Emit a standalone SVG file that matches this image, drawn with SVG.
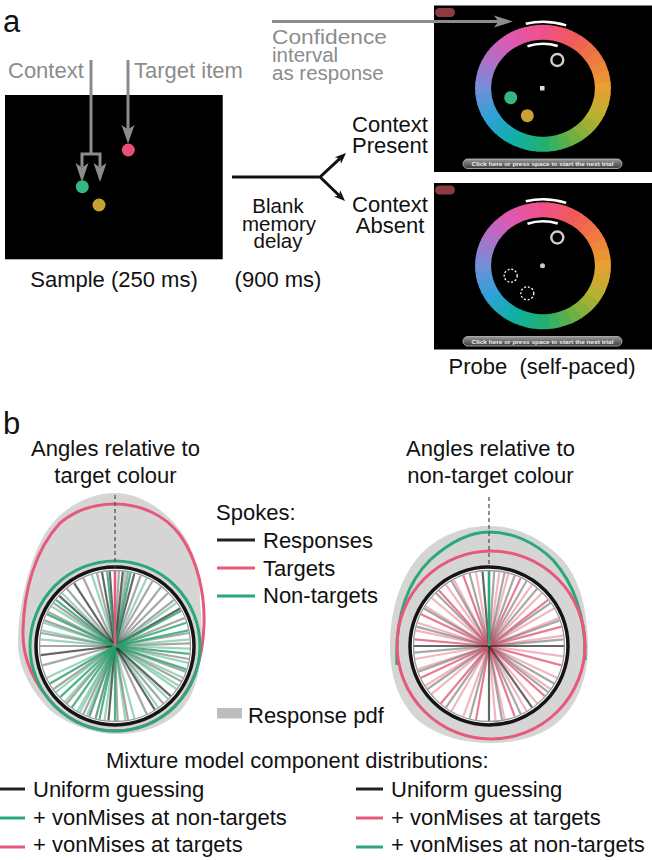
<svg xmlns="http://www.w3.org/2000/svg" width="652" height="860" viewBox="0 0 652 860">
<style>
text{font-family:"Liberation Sans",Arial,Helvetica,sans-serif;font-size:22px;fill:#111}
.gt{fill:#8c8c8c}
.lbl{font-size:31px}
.tight{font-size:20.5px}
.ga{stroke:#8c8c8c;stroke-width:3;fill:none}
.gh{fill:#8c8c8c}
.ka{stroke:#111;stroke-width:3;fill:none}
.kh{fill:#111}
.btn{font-size:6.2px;font-weight:bold;fill:#eeeeee}
.blob{fill:#d5d5d5}
.sp use{stroke-width:2.2}
.k1{stroke:#2b2b2b;stroke-opacity:.72}
.k2{stroke:#505050;stroke-opacity:.5}
.g1{stroke:#23a06a;stroke-opacity:.8}
.g2{stroke:#23a06a;stroke-opacity:.45}
.r1{stroke:#e0506e;stroke-opacity:.75}
.r2{stroke:#e0506e;stroke-opacity:.42}
.pk{stroke:#e6587c;stroke-width:3;fill:none}
.gn{stroke:#2aa876;stroke-width:3;fill:none}
.bk{stroke:#151515;stroke-width:3.5;fill:none}
.thin{stroke:#999;stroke-width:1.3;fill:none}
.dash{stroke:#555;stroke-width:1.3;stroke-dasharray:4 3}
.warc{stroke:#fff;stroke-width:2.5;fill:none}
</style>
<defs>
<linearGradient id="btng" x1="0" y1="0" x2="0" y2="1">
<stop offset="0" stop-color="#9a9a9a"/><stop offset="1" stop-color="#3c3c3c"/>
</linearGradient>
<path id="seg" d="M -5.47 -55.73 A 56 56 0 0 1 5.47 -55.73" fill="none" stroke-width="15"/>
<line id="spk" x1="0" y1="0" x2="0" y2="-75"/>
<g id="wheel">
<use href="#seg" stroke="#f0508a"/>
<use href="#seg" transform="rotate(10)" stroke="#f0537b"/>
<use href="#seg" transform="rotate(20)" stroke="#f0576a"/>
<use href="#seg" transform="rotate(30)" stroke="#f05a5a"/>
<use href="#seg" transform="rotate(40)" stroke="#f06551"/>
<use href="#seg" transform="rotate(50)" stroke="#f06f49"/>
<use href="#seg" transform="rotate(60)" stroke="#f07a40"/>
<use href="#seg" transform="rotate(70)" stroke="#ed873b"/>
<use href="#seg" transform="rotate(80)" stroke="#eb9335"/>
<use href="#seg" transform="rotate(90)" stroke="#e8a030"/>
<use href="#seg" transform="rotate(100)" stroke="#d8a530"/>
<use href="#seg" transform="rotate(110)" stroke="#c8ab30"/>
<use href="#seg" transform="rotate(120)" stroke="#b8b030"/>
<use href="#seg" transform="rotate(130)" stroke="#a0b035"/>
<use href="#seg" transform="rotate(140)" stroke="#88b03b"/>
<use href="#seg" transform="rotate(150)" stroke="#70b040"/>
<use href="#seg" transform="rotate(160)" stroke="#55b050"/>
<use href="#seg" transform="rotate(170)" stroke="#3bb060"/>
<use href="#seg" transform="rotate(180)" stroke="#20b070"/>
<use href="#seg" transform="rotate(190)" stroke="#1bb083"/>
<use href="#seg" transform="rotate(200)" stroke="#15b095"/>
<use href="#seg" transform="rotate(210)" stroke="#10b0a8"/>
<use href="#seg" transform="rotate(220)" stroke="#1babb8"/>
<use href="#seg" transform="rotate(230)" stroke="#25a5c8"/>
<use href="#seg" transform="rotate(240)" stroke="#30a0d8"/>
<use href="#seg" transform="rotate(250)" stroke="#459bd8"/>
<use href="#seg" transform="rotate(260)" stroke="#5b95d8"/>
<use href="#seg" transform="rotate(270)" stroke="#7090d8"/>
<use href="#seg" transform="rotate(280)" stroke="#8585d3"/>
<use href="#seg" transform="rotate(290)" stroke="#9b7bcd"/>
<use href="#seg" transform="rotate(300)" stroke="#b070c8"/>
<use href="#seg" transform="rotate(310)" stroke="#c068c0"/>
<use href="#seg" transform="rotate(320)" stroke="#d060b8"/>
<use href="#seg" transform="rotate(330)" stroke="#e058b0"/>
<use href="#seg" transform="rotate(340)" stroke="#e555a3"/>
<use href="#seg" transform="rotate(350)" stroke="#eb5397"/>
</g>
<g id="probeBase">
<rect x="434" y="5.5" width="218" height="166.5" fill="#000"/>
<rect x="435" y="8" width="20" height="9" rx="4.5" fill="#8e3a42"/>
<g transform="translate(543,88.3) scale(1.07,1)">
<use href="#wheel"/>
<path class="warc" d="M -16.09 -64.52 A 66.5 66.5 0 0 1 21.65 -62.88"/>
<path class="warc" d="M -14.49 -42.08 A 44.5 44.5 0 0 1 13.75 -42.32"/>
</g>
<circle cx="557.3" cy="60" r="6" fill="none" stroke="#cfcfcf" stroke-width="2.4"/>
<rect x="463" y="159" width="159" height="9.5" rx="4.75" fill="url(#btng)" stroke="#c0c0c0" stroke-width="0.8"/>
<text class="btn" x="542.5" y="166.2" text-anchor="middle" textLength="142" lengthAdjust="spacingAndGlyphs">Click here or press space to start the next trial</text>
</g>
</defs>

<text class="lbl" x="3" y="31.5">a</text>
<text class="lbl" x="3" y="434">b</text>

<g id="sample">
<rect x="5" y="95" width="217.7" height="164.3" fill="#000"/>
<circle cx="128.3" cy="150" r="6.5" fill="#e8507a"/>
<circle cx="82.3" cy="186.7" r="6.5" fill="#33b882"/>
<circle cx="99" cy="205" r="6.5" fill="#c9a032"/>
<text x="114" y="287" text-anchor="middle">Sample (250 ms)</text>
</g>

<g id="labels-a">
<text class="gt" x="8" y="78">Context</text>
<text class="gt" x="134" y="78">Target item</text>
<text class="gt tight" x="272" y="43.5" textLength="115" lengthAdjust="spacingAndGlyphs">Confidence</text>
<text class="gt tight" x="272" y="61.5">interval</text>
<text class="gt tight" x="272" y="79.5">as response</text>
<text class="tight" x="278" y="212.5" text-anchor="middle">Blank</text>
<text class="tight" x="279" y="230.5" text-anchor="middle">memory</text>
<text class="tight" x="278" y="248" text-anchor="middle">delay</text>
<text x="278" y="287" text-anchor="middle">(900 ms)</text>
<text x="390" y="131.5" text-anchor="middle">Context<tspan x="390" y="153">Present</tspan></text>
<text x="390" y="211.5" text-anchor="middle">Context<tspan x="390" y="233">Absent</tspan></text>
<text x="542" y="374" text-anchor="middle" xml:space="preserve">Probe&#160; (self-paced)</text>
</g>

<g id="probe-present">
<use href="#probeBase"/>
<rect x="540" y="86" width="4.5" height="4.5" fill="#dddddd"/>
<circle cx="510.7" cy="97.7" r="6.5" fill="#33b882"/>
<circle cx="527.3" cy="115.7" r="6.5" fill="#c9a032"/>
</g>

<g id="probe-absent">
<use href="#probeBase" transform="translate(0,177.5)"/>
<circle cx="542.5" cy="265.8" r="2.5" fill="#cccccc"/>
<circle cx="510.7" cy="275.7" r="6.5" fill="none" stroke="#fff" stroke-width="1.3" stroke-dasharray="2 1.8"/>
<circle cx="527.3" cy="293.3" r="6.5" fill="none" stroke="#fff" stroke-width="1.3" stroke-dasharray="2 1.8"/>
</g>

<g id="connectors">
<path class="ga" d="M91,60 V154"/>
<path class="ga" d="M82,167 V154 H100 V167" stroke-linejoin="miter"/>
<polygon class="gh" points="75.5,163 82,182 88.5,163 82,167.5"/>
<polygon class="gh" points="93.5,163 100,182 106.5,163 100,167.5"/>
<path class="ga" d="M128,60 V130"/>
<polygon class="gh" points="121.5,125 128,143.5 134.5,125 128,129.5"/>
<path class="ga" d="M272,21.5 H499"/>
<polygon class="gh" points="494,15.5 513,21.5 494,27.5 498.5,21.5"/>
<path class="ka" d="M232,177 H320 L340.1,158.4 M320,177 L339.2,195.5"/>
<polygon class="kh" points="346,153 341,163.8 340.1,158.4 334.9,157.2"/>
<polygon class="kh" points="345,201 334,196.6 339.2,195.5 340.2,190.2"/>
</g>

<g id="plot-target">
<text x="115.5" y="456" text-anchor="middle">Angles relative to<tspan x="115.5" y="483">target colour</tspan></text>
<path class="blob" d="M115,493 C140,493 165,510 180,530 C195,550 200,575 200,600 C202,625 203,645 200,663 C197,685 190,705 173,717 C155,730 135,735 113,734 C90,733 65,723 50,710 C30,690 17,665 18,640 C19,605 28,565 43,537 C60,507 90,493 115,493 Z"/>
<path class="pk" d="M55,706 C35,685 22,660 23,630 C24,590 35,550 60,523 C78,508 98,504 115,504 C140,504 165,515 180,535 C198,560 205,595 204,625 C203,655 195,685 175,706 A 85 85 0 0 1 55,706 Z"/>
<circle class="gn" cx="115" cy="646" r="85" stroke-width="3.5"/>
<circle cx="115" cy="646" r="79" fill="#fff"/>
<g class="sp" transform="translate(115,646)">
<use href="#spk" class="k2" transform="rotate(-14)"/><use href="#spk" class="k2" transform="rotate(3)"/><use href="#spk" class="k2" transform="rotate(10)"/><use href="#spk" class="k2" transform="rotate(20)"/><use href="#spk" class="k2" transform="rotate(-25)"/><use href="#spk" class="k2" transform="rotate(-40)"/><use href="#spk" class="k2" transform="rotate(-55)"/><use href="#spk" class="k2" transform="rotate(-63)"/><use href="#spk" class="k2" transform="rotate(-70)"/><use href="#spk" class="k2" transform="rotate(-80)"/><use href="#spk" class="k2" transform="rotate(-90)"/><use href="#spk" class="k2" transform="rotate(-105)"/><use href="#spk" class="k2" transform="rotate(-125)"/><use href="#spk" class="k2" transform="rotate(-140)"/><use href="#spk" class="k2" transform="rotate(-160)"/><use href="#spk" class="k2" transform="rotate(170)"/><use href="#spk" class="k2" transform="rotate(178)"/><use href="#spk" class="k2" transform="rotate(195)"/><use href="#spk" class="k2" transform="rotate(205)"/><use href="#spk" class="k2" transform="rotate(140)"/><use href="#spk" class="k2" transform="rotate(155)"/><use href="#spk" class="k2" transform="rotate(30)"/><use href="#spk" class="k2" transform="rotate(38)"/><use href="#spk" class="k2" transform="rotate(45)"/><use href="#spk" class="k2" transform="rotate(52)"/><use href="#spk" class="k2" transform="rotate(68)"/><use href="#spk" class="k2" transform="rotate(80)"/><use href="#spk" class="k2" transform="rotate(88)"/><use href="#spk" class="k2" transform="rotate(100)"/><use href="#spk" class="k2" transform="rotate(110)"/><use href="#spk" class="k2" transform="rotate(118)"/>
<use href="#spk" class="g2" transform="rotate(-18)"/><use href="#spk" class="g2" transform="rotate(8)"/><use href="#spk" class="g2" transform="rotate(25)"/><use href="#spk" class="g2" transform="rotate(-45)"/><use href="#spk" class="g2" transform="rotate(-58)"/><use href="#spk" class="g2" transform="rotate(-72)"/><use href="#spk" class="g2" transform="rotate(-78)"/><use href="#spk" class="g2" transform="rotate(-85)"/><use href="#spk" class="g2" transform="rotate(55)"/><use href="#spk" class="g2" transform="rotate(85)"/><use href="#spk" class="g2" transform="rotate(92)"/><use href="#spk" class="g2" transform="rotate(103)"/><use href="#spk" class="g2" transform="rotate(115)"/><use href="#spk" class="g2" transform="rotate(122)"/><use href="#spk" class="g2" transform="rotate(-115)"/><use href="#spk" class="g2" transform="rotate(-128)"/><use href="#spk" class="g2" transform="rotate(-138)"/><use href="#spk" class="g2" transform="rotate(-152)"/><use href="#spk" class="g2" transform="rotate(-158)"/><use href="#spk" class="g2" transform="rotate(-165)"/><use href="#spk" class="g2" transform="rotate(165)"/><use href="#spk" class="g2" transform="rotate(172)"/><use href="#spk" class="g2" transform="rotate(188)"/><use href="#spk" class="g2" transform="rotate(200)"/><use href="#spk" class="g2" transform="rotate(210)"/><use href="#spk" class="g2" transform="rotate(125)"/><use href="#spk" class="g2" transform="rotate(135)"/><use href="#spk" class="g2" transform="rotate(145)"/>
<use href="#spk" class="k1" transform="rotate(-10)"/><use href="#spk" class="k1" transform="rotate(-4)"/><use href="#spk" class="k1" transform="rotate(6)"/><use href="#spk" class="k1" transform="rotate(15)"/><use href="#spk" class="k1" transform="rotate(-33)"/><use href="#spk" class="k1" transform="rotate(-48)"/><use href="#spk" class="k1" transform="rotate(-97)"/><use href="#spk" class="k1" transform="rotate(60)"/><use href="#spk" class="k1" transform="rotate(132)"/><use href="#spk" class="k1" transform="rotate(148)"/><use href="#spk" class="k1" transform="rotate(185)"/>
<use href="#spk" class="g1" transform="rotate(-6)"/><use href="#spk" class="g1" transform="rotate(12)"/><use href="#spk" class="g1" transform="rotate(-52)"/><use href="#spk" class="g1" transform="rotate(-65)"/><use href="#spk" class="g1" transform="rotate(62)"/><use href="#spk" class="g1" transform="rotate(78)"/><use href="#spk" class="g1" transform="rotate(96)"/><use href="#spk" class="g1" transform="rotate(108)"/><use href="#spk" class="g1" transform="rotate(-120)"/><use href="#spk" class="g1" transform="rotate(-133)"/><use href="#spk" class="g1" transform="rotate(-145)"/><use href="#spk" class="g1" transform="rotate(180)"/><use href="#spk" class="g1" transform="rotate(192)"/><use href="#spk" class="g1" transform="rotate(72)"/>
</g>
<line x1="115" y1="646" x2="115" y2="570" stroke="#e6587c" stroke-width="2.6"/>
<circle class="bk" cx="115" cy="646" r="79"/>
<circle class="thin" cx="115" cy="646" r="75.5"/>
<line class="dash" x1="115" y1="495" x2="115" y2="567"/>
</g>

<g id="plot-nontarget">
<text x="490.5" y="456" text-anchor="middle">Angles relative to<tspan x="490.5" y="483">non-target colour</tspan></text>
<path class="blob" d="M489,526 C515,526 540,537 560,557 C578,575 587,605 588,643 C589,680 575,712 550,728 C530,740 510,743 490,743 C465,743 440,737 420,722 C400,705 390,678 390,647 C390,610 400,578 420,555 C438,536 463,526 489,526 Z"/>
<path class="gn" d="M397,665 C395,620 405,585 430,560 C450,542 470,532 489,532 C512,532 535,542 553,560 C575,585 586,620 585,660"/>
<circle class="pk" cx="491" cy="645" r="94"/>
<circle cx="489" cy="646" r="79" fill="#fff"/>
<g class="sp" transform="translate(489,646)">
<use href="#spk" class="r2" transform="rotate(-10)"/><use href="#spk" class="r2" transform="rotate(-28)"/><use href="#spk" class="r2" transform="rotate(-35)"/><use href="#spk" class="r2" transform="rotate(-50)"/><use href="#spk" class="r2" transform="rotate(-58)"/><use href="#spk" class="r2" transform="rotate(-72)"/><use href="#spk" class="r2" transform="rotate(-78)"/><use href="#spk" class="r2" transform="rotate(-100)"/><use href="#spk" class="r2" transform="rotate(-108)"/><use href="#spk" class="r2" transform="rotate(-122)"/><use href="#spk" class="r2" transform="rotate(-130)"/><use href="#spk" class="r2" transform="rotate(-150)"/><use href="#spk" class="r2" transform="rotate(-160)"/><use href="#spk" class="r2" transform="rotate(175)"/><use href="#spk" class="r2" transform="rotate(168)"/><use href="#spk" class="r2" transform="rotate(150)"/><use href="#spk" class="r2" transform="rotate(140)"/><use href="#spk" class="r2" transform="rotate(125)"/><use href="#spk" class="r2" transform="rotate(115)"/><use href="#spk" class="r2" transform="rotate(98)"/><use href="#spk" class="r2" transform="rotate(82)"/><use href="#spk" class="r2" transform="rotate(68)"/><use href="#spk" class="r2" transform="rotate(60)"/><use href="#spk" class="r2" transform="rotate(45)"/><use href="#spk" class="r2" transform="rotate(35)"/><use href="#spk" class="r2" transform="rotate(15)"/><use href="#spk" class="r2" transform="rotate(8)"/>
<use href="#spk" class="k2" transform="rotate(-15)"/><use href="#spk" class="k2" transform="rotate(4)"/><use href="#spk" class="k2" transform="rotate(12)"/><use href="#spk" class="k2" transform="rotate(20)"/><use href="#spk" class="k2" transform="rotate(30)"/><use href="#spk" class="k2" transform="rotate(-30)"/><use href="#spk" class="k2" transform="rotate(-45)"/><use href="#spk" class="k2" transform="rotate(-60)"/><use href="#spk" class="k2" transform="rotate(-75)"/><use href="#spk" class="k2" transform="rotate(-95)"/><use href="#spk" class="k2" transform="rotate(-110)"/><use href="#spk" class="k2" transform="rotate(-125)"/><use href="#spk" class="k2" transform="rotate(-145)"/><use href="#spk" class="k2" transform="rotate(-165)"/><use href="#spk" class="k2" transform="rotate(170)"/><use href="#spk" class="k2" transform="rotate(155)"/><use href="#spk" class="k2" transform="rotate(128)"/><use href="#spk" class="k2" transform="rotate(120)"/><use href="#spk" class="k2" transform="rotate(85)"/><use href="#spk" class="k2" transform="rotate(70)"/><use href="#spk" class="k2" transform="rotate(55)"/><use href="#spk" class="k2" transform="rotate(40)"/>
<use href="#spk" class="r1" transform="rotate(-20)"/><use href="#spk" class="r1" transform="rotate(-42)"/><use href="#spk" class="r1" transform="rotate(-65)"/><use href="#spk" class="r1" transform="rotate(-85)"/><use href="#spk" class="r1" transform="rotate(-115)"/><use href="#spk" class="r1" transform="rotate(-140)"/><use href="#spk" class="r1" transform="rotate(-170)"/><use href="#spk" class="r1" transform="rotate(160)"/><use href="#spk" class="r1" transform="rotate(132)"/><use href="#spk" class="r1" transform="rotate(105)"/><use href="#spk" class="r1" transform="rotate(75)"/><use href="#spk" class="r1" transform="rotate(52)"/><use href="#spk" class="r1" transform="rotate(25)"/>
<use href="#spk" class="k1" transform="rotate(-5)"/><use href="#spk" class="k1" transform="rotate(90)"/><use href="#spk" class="k1" transform="rotate(-90)"/><use href="#spk" class="k1" transform="rotate(180)"/><use href="#spk" class="k1" transform="rotate(145)"/>
</g>
<line x1="489" y1="646" x2="489" y2="570" stroke="#2aa876" stroke-width="2.6"/>
<circle class="bk" cx="489" cy="646" r="79"/>
<circle class="thin" cx="489" cy="646" r="75.5"/>
<line class="dash" x1="489" y1="497" x2="489" y2="567"/>
</g>

<g id="legend-spokes">
<text x="216" y="520">Spokes:</text>
<line x1="217" y1="540" x2="255" y2="540" stroke="#222" stroke-width="3"/>
<text x="263" y="548">Responses</text>
<line x1="217" y1="568" x2="255" y2="568" stroke="#e6587c" stroke-width="3"/>
<text x="263" y="576">Targets</text>
<line x1="217" y1="596" x2="255" y2="596" stroke="#2aa876" stroke-width="3"/>
<text x="263" y="603">Non-targets</text>
<rect x="217" y="708" width="25" height="10.5" fill="#bdbdbd"/>
<text x="248" y="723">Response pdf</text>
</g>

<g id="legend-mixture">
<text x="106" y="768">Mixture model component distributions:</text>
<line x1="0" y1="789" x2="25" y2="789" stroke="#222" stroke-width="3"/>
<text x="33" y="797">Uniform guessing</text>
<line x1="0" y1="818" x2="25" y2="818" stroke="#2aa876" stroke-width="3"/>
<text x="33" y="825">+ vonMises at non-targets</text>
<line x1="0" y1="847" x2="25" y2="847" stroke="#e6587c" stroke-width="3"/>
<text x="33" y="852">+ vonMises at targets</text>
<line x1="356" y1="789" x2="383" y2="789" stroke="#222" stroke-width="3"/>
<text x="391" y="797">Uniform guessing</text>
<line x1="356" y1="818" x2="383" y2="818" stroke="#e6587c" stroke-width="3"/>
<text x="391" y="825">+ vonMises at targets</text>
<line x1="356" y1="847" x2="383" y2="847" stroke="#2aa876" stroke-width="3"/>
<text x="391" y="852">+ vonMises at non-targets</text>
</g>
</svg>
